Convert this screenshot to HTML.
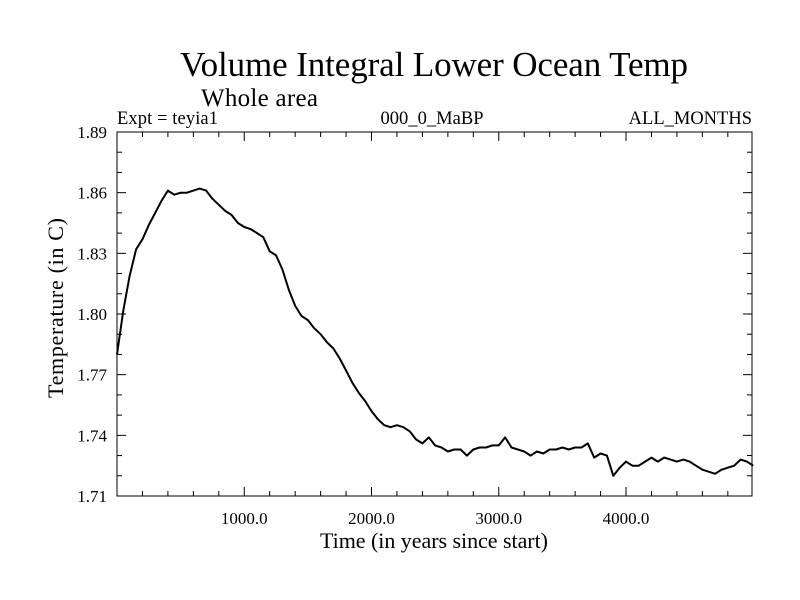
<!DOCTYPE html>
<html><head><meta charset="utf-8"><style>
html,body{margin:0;padding:0;background:#fff}
svg{display:block;font-family:"Liberation Serif",serif}
</style></head><body>
<svg id="chart" width="800" height="600">
<text x="434" y="76" font-size="35" text-anchor="middle" textLength="508">Volume Integral Lower Ocean Temp</text>
<text x="201" y="106" font-size="25" textLength="117">Whole area</text>
<text x="117" y="124" font-size="18.5" textLength="101">Expt = teyia1</text>
<text x="432" y="124" font-size="18.5" text-anchor="middle" textLength="103">000_0_MaBP</text>
<text x="752" y="124" font-size="18.5" text-anchor="end">ALL_MONTHS</text>
<text x="434" y="548" font-size="22" text-anchor="middle" textLength="228">Time (in years since start)</text>
<text transform="translate(63,308) rotate(-90)" font-size="22" text-anchor="middle" textLength="180">Temperature (in C)</text>
<g id="axes"></g>
<path id="series" fill="none" stroke="#000" stroke-width="2" stroke-linejoin="round"/>
<rect x="117" y="132" width="635" height="364" fill="none" stroke="#000" stroke-width="1"/>
</svg>
<script>
const years = [0,50,100,150,200,250,300,350,400,450,500,550,600,650,700,750,800,850,900,950,1000,1050,1100,1150,1200,1250,1300,1350,1400,1450,1500,1550,1600,1650,1700,1750,1800,1850,1900,1950,2000,2050,2100,2150,2200,2250,2300,2350,2400,2450,2500,2550,2600,2650,2700,2750,2800,2850,2900,2950,3000,3050,3100,3150,3200,3250,3300,3350,3400,3450,3500,3550,3600,3650,3700,3750,3800,3850,3900,3950,4000,4050,4100,4150,4200,4250,4300,4350,4400,4450,4500,4550,4600,4650,4700,4750,4800,4850,4900,4950,5000];
const temps = [1.780,1.802,1.819,1.832,1.837,1.844,1.850,1.856,1.861,1.859,1.860,1.860,1.861,1.862,1.861,1.857,1.854,1.851,1.849,1.845,1.843,1.842,1.840,1.838,1.831,1.829,1.822,1.812,1.804,1.799,1.797,1.793,1.790,1.786,1.783,1.778,1.772,1.766,1.761,1.757,1.752,1.748,1.745,1.744,1.745,1.744,1.742,1.738,1.736,1.739,1.735,1.734,1.732,1.733,1.733,1.730,1.733,1.734,1.734,1.735,1.735,1.739,1.734,1.733,1.732,1.730,1.732,1.731,1.733,1.733,1.734,1.733,1.734,1.734,1.736,1.729,1.731,1.730,1.720,1.724,1.727,1.725,1.725,1.727,1.729,1.727,1.729,1.728,1.727,1.728,1.727,1.725,1.723,1.722,1.721,1.723,1.724,1.725,1.728,1.727,1.725];
const yTicks = [1.71,1.74,1.77,1.80,1.83,1.86,1.89];
const yTickLabels = ["1.71","1.74","1.77","1.80","1.83","1.86","1.89"];
const xTicks = [1000,2000,3000,4000];
const xTickLabels = ["1000.0","2000.0","3000.0","4000.0"];
const X0=117,X1=752,Y0=132,Y1=496,XMAX=4990,YMIN=1.71,YMAX=1.89;
const sx=v=>X0+(v/XMAX)*(X1-X0);
const sy=v=>Y1-(v-YMIN)/(YMAX-YMIN)*(Y1-Y0);
const NS="http://www.w3.org/2000/svg";
const g=document.getElementById('axes');
function line(x1,y1,x2,y2,name){const l=document.createElementNS(NS,'line');l.setAttribute('x1',x1);l.setAttribute('y1',y1);l.setAttribute('x2',x2);l.setAttribute('y2',y2);l.setAttribute('stroke','#000');l.setAttribute('stroke-width','1');


g.appendChild(l);}
function text(x,y,s,anchor,name){const t=document.createElementNS(NS,'text');t.setAttribute('x',x);t.setAttribute('y',y);t.setAttribute('font-size','17');t.setAttribute('text-anchor',anchor);t.textContent=s;


g.appendChild(t);}
for(let v=200;v<XMAX;v+=200){const x=sx(v);const major=v%1000===0;const len=major?9:5;
line(x,Y1,x,Y1-len,'x-tick');line(x,Y0,x,Y0+len,'x-tick-top');}
for(let i=0;i<=18;i++){const v=YMIN+i*0.01;const y=sy(v);const major=i%3===0;const len=major?9:5;
line(X0,y,X0+len,y,'y-tick');line(X1,y,X1-len,y,'y-tick-right');}
xTicks.forEach((v,i)=>text(sx(v),524,xTickLabels[i],'middle','x-tick-label'));
yTicks.forEach((v,i)=>text(107,sy(v)+6,yTickLabels[i],'end','y-tick-label'));
let d='';years.forEach((v,i)=>{d+=(i?'L':'M')+sx(v).toFixed(1)+','+sy(temps[i]).toFixed(1);});
document.getElementById('series').setAttribute('d',d);
</script>
</body></html>
